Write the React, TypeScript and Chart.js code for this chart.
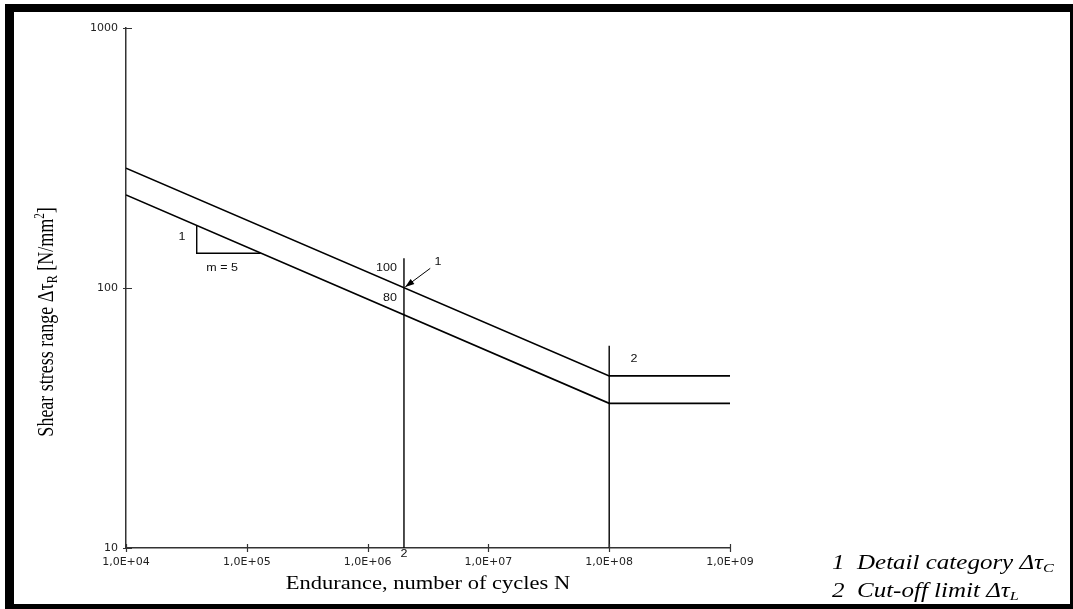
import React, { useEffect, useRef } from 'react';
import { Chart, registerables } from 'chart.js';

Chart.register(...registerables);

// ---- data ----
const cycleTicks = [1e4, 1e5, 1e6, 1e7, 1e8, 1e9];
const cycleTickLabels = ['1,0E+04', '1,0E+05', '1,0E+06', '1,0E+07', '1,0E+08', '1,0E+09'];
const stressTicks = [10, 100, 1000];
const stressTickLabels = ['10', '100', '1000'];

// detail category 100 curve (upper)
const upperN = [1e4, 1e8, 1e9];
const upperStress = [289, 45.9, 45.9];
// detail category 80 curve (lower)
const lowerN = [1e4, 1e8, 1e9];
const lowerStress = [228, 36.0, 36.0];
// vertical reference line at N = 2e6
const refN = [2e6, 2e6];
const refStress = [10, 130];
// vertical cut-off line at N = 1e8
const cutN = [1e8, 1e8];
const cutStress = [10, 60];
// slope triangle m = 5
const slopeN = [3.85e4, 3.85e4, 1.3e5];
const slopeStress = [173, 136, 136];
// arrow to detail category point
const arrowN = [3.3e6, 2.05e6];
const arrowStress = [119, 101];

// annotation labels (data coordinates)
const noteTexts = ['100', '80', '1', '1', 'm = 5', '2'];
const noteN = [1.75e6, 1.75e6, 3.83e6, 2.91e4, 6.24e4, 1.6e8];
const noteStress = [119, 91.5, 126, 157, 119, 53.3];
const noteAlign = ['right', 'right', 'center', 'center', 'center', 'center'];

const toXY = (xs: number[], ys: number[]) => xs.map((x, i) => ({ x, y: ys[i] }));

const SX = 1.25; // horizontal stretch of the reference image text

type Seg = { t: string; font: string; dy?: number };

function drawSegs(ctx: CanvasRenderingContext2D, segs: Seg[], align: 'left' | 'center') {
  let w = 0;
  for (const s of segs) {
    ctx.font = s.font;
    w += ctx.measureText(s.t).width;
  }
  let x = align === 'center' ? -w / 2 : 0;
  ctx.textAlign = 'left';
  for (const s of segs) {
    ctx.font = s.font;
    ctx.fillText(s.t, x, s.dy || 0);
    x += ctx.measureText(s.t).width;
  }
}

const decorPlugin = {
  id: 'decor',
  beforeDraw(chart: any) {
    const ctx = chart.ctx as CanvasRenderingContext2D;
    const W = chart.width;
    const H = chart.height;
    ctx.save();
    ctx.fillStyle = '#ffffff';
    ctx.fillRect(0, 0, W, H);
    ctx.fillStyle = '#000000';
    ctx.fillRect(5, 4, W - 5, 8); // top
    ctx.fillRect(5, 4, 9, H - 4); // left
    ctx.fillRect(5, H - 5, W - 5, 5); // bottom
    ctx.fillRect(W - 3, 4, 3, H - 4); // right
    ctx.restore();
  },
  afterDraw(chart: any) {
    const ctx = chart.ctx as CanvasRenderingContext2D;
    const xs = chart.scales.x;
    const ys = chart.scales.y;
    const area = chart.chartArea;
    ctx.save();

    // crossing tick marks
    ctx.strokeStyle = '#333';
    ctx.lineWidth = 1.2;
    ctx.beginPath();
    for (const v of cycleTicks) {
      const px = Math.round(xs.getPixelForValue(v)) + 0.5;
      ctx.moveTo(px, area.bottom - 4);
      ctx.lineTo(px, area.bottom + 4);
    }
    for (const v of stressTicks) {
      const py = Math.round(ys.getPixelForValue(v)) + 0.5;
      ctx.moveTo(area.left - 3, py);
      ctx.lineTo(area.left + 6, py);
    }
    ctx.stroke();

    // arrow head
    const tx = xs.getPixelForValue(arrowN[1]);
    const ty = ys.getPixelForValue(arrowStress[1]);
    const fx = xs.getPixelForValue(arrowN[0]);
    const fy = ys.getPixelForValue(arrowStress[0]);
    const ang = Math.atan2(ty - fy, tx - fx);
    const L = 9;
    const Hw = 3.2;
    ctx.fillStyle = '#000';
    ctx.beginPath();
    ctx.moveTo(tx, ty);
    ctx.lineTo(tx - L * Math.cos(ang) + Hw * Math.sin(ang), ty - L * Math.sin(ang) - Hw * Math.cos(ang));
    ctx.lineTo(tx - L * Math.cos(ang) - Hw * Math.sin(ang), ty - L * Math.sin(ang) + Hw * Math.cos(ang));
    ctx.closePath();
    ctx.fill();

    // small annotation labels
    ctx.fillStyle = '#111';
    ctx.textBaseline = 'middle';
    const small = '10px "Liberation Sans", Arial, sans-serif';
    noteTexts.forEach((t, i) => {
      const px = xs.getPixelForValue(noteN[i]);
      const py = ys.getPixelForValue(noteStress[i]);
      ctx.save();
      ctx.translate(px, py);
      ctx.scale(SX, 1);
      ctx.font = small;
      ctx.textAlign = noteAlign[i] as CanvasTextAlign;
      ctx.fillText(t, 0, 0);
      ctx.restore();
    });
    // "2" just below the axis at N = 2e6
    ctx.save();
    ctx.translate(xs.getPixelForValue(refN[0]), area.bottom + 6);
    ctx.scale(SX, 1);
    ctx.font = small;
    ctx.textAlign = 'center';
    ctx.fillText('2', 0, 0);
    ctx.restore();

    // x axis title
    const serif = '"Liberation Serif", "Times New Roman", serif';
    ctx.fillStyle = '#000';
    ctx.textBaseline = 'alphabetic';
    ctx.save();
    ctx.translate((area.left + area.right) / 2, 589);
    ctx.scale(SX, 1);
    ctx.font = `18px ${serif}`;
    ctx.textAlign = 'center';
    ctx.fillText('Endurance, number of cycles N', 0, 0);
    ctx.restore();

    // y axis title (rotated)
    ctx.save();
    ctx.translate(53, (area.top + area.bottom) / 2 + 34);
    ctx.scale(SX, 1);
    ctx.rotate(-Math.PI / 2);
    drawSegs(
      ctx,
      [
        { t: 'Shear stress range Δτ', font: `18px ${serif}` },
        { t: 'R', font: `12px ${serif}`, dy: 3 },
        { t: ' [N/mm', font: `18px ${serif}` },
        { t: '2', font: `11px ${serif}`, dy: -7 },
        { t: ']', font: `18px ${serif}` },
      ],
      'center'
    );
    ctx.restore();

    // legend text (bottom right)
    const it = `italic 20px ${serif}`;
    const itSub = `italic 13px ${serif}`;
    ctx.save();
    ctx.translate(832, 569);
    ctx.scale(SX, 1);
    drawSegs(
      ctx,
      [
        { t: '1  Detail category Δτ', font: it },
        { t: 'C', font: itSub, dy: 3 },
      ],
      'left'
    );
    ctx.restore();
    ctx.save();
    ctx.translate(832, 597);
    ctx.scale(SX, 1);
    drawSegs(
      ctx,
      [
        { t: '2  Cut-off limit Δτ', font: it },
        { t: 'L', font: itSub, dy: 3 },
      ],
      'left'
    );
    ctx.restore();

    ctx.restore();
  },
};

export default function App() {
  const ref = useRef<HTMLCanvasElement | null>(null);

  useEffect(() => {
    if (!ref.current) return;
    const line = (xs: number[], ys: number[], label: string, width = 1.7) => ({
      label,
      data: toXY(xs, ys),
      showLine: true,
      borderColor: '#000',
      backgroundColor: '#000',
      borderWidth: width,
      pointRadius: 0,
      pointHoverRadius: 0,
      fill: false,
      tension: 0,
    });
    const chart = new Chart(ref.current, {
      type: 'scatter',
      data: {
        datasets: [
          line(upperN, upperStress, 'Detail category 100'),
          line(lowerN, lowerStress, 'Detail category 80'),
          line(refN, refStress, 'N = 2E+06', 1.4),
          line(cutN, cutStress, 'Cut-off limit', 1.4),
          line(slopeN, slopeStress, 'Slope m = 5', 1.4),
          line(arrowN, arrowStress, 'Arrow', 1),
        ],
      },
      plugins: [decorPlugin],
      options: {
        responsive: false,
        animation: false,
        devicePixelRatio: 1,
        layout: { padding: { left: 86, right: 343, top: 28, bottom: 41 } },
        plugins: {
          legend: { display: false },
          tooltip: { enabled: false },
          title: { display: false },
        },
        scales: {
          x: {
            type: 'logarithmic',
            min: 1e4,
            max: 1e9,
            grid: { display: false, drawTicks: false },
            border: { display: true, color: '#333', width: 1.5 },
            afterBuildTicks: (scale: any) => {
              scale.ticks = cycleTicks.map((v) => ({ value: v }));
            },
            afterFit: (scale: any) => {
              scale.height = 20;
            },
            ticks: {
              autoSkip: false,
              maxRotation: 0,
              padding: 8,
              color: '#222',
              font: { family: '"DejaVu Sans", sans-serif', size: 11 },
              callback: (v: any) => {
                const i = cycleTicks.indexOf(Number(v));
                return i >= 0 ? cycleTickLabels[i] : '';
              },
            },
          },
          y: {
            type: 'logarithmic',
            min: 10,
            max: 1000,
            grid: { display: false, drawTicks: false },
            border: { display: true, color: '#333', width: 1.5 },
            afterBuildTicks: (scale: any) => {
              scale.ticks = stressTicks.map((v) => ({ value: v }));
            },
            afterFit: (scale: any) => {
              scale.width = 40;
            },
            ticks: {
              autoSkip: false,
              padding: 8,
              color: '#222',
              font: { family: '"DejaVu Sans", sans-serif', size: 11 },
              callback: (v: any) => {
                const i = stressTicks.indexOf(Number(v));
                return i >= 0 ? stressTickLabels[i] : '';
              },
            },
          },
        },
      },
    });
    return () => chart.destroy();
  }, []);

  return (
    <div style={{ position: 'absolute', left: 0, top: 0, width: 1073, height: 609 }}>
      <canvas ref={ref} width={1073} height={609} style={{ display: 'block', width: 1073, height: 609 }} />
    </div>
  );
}
